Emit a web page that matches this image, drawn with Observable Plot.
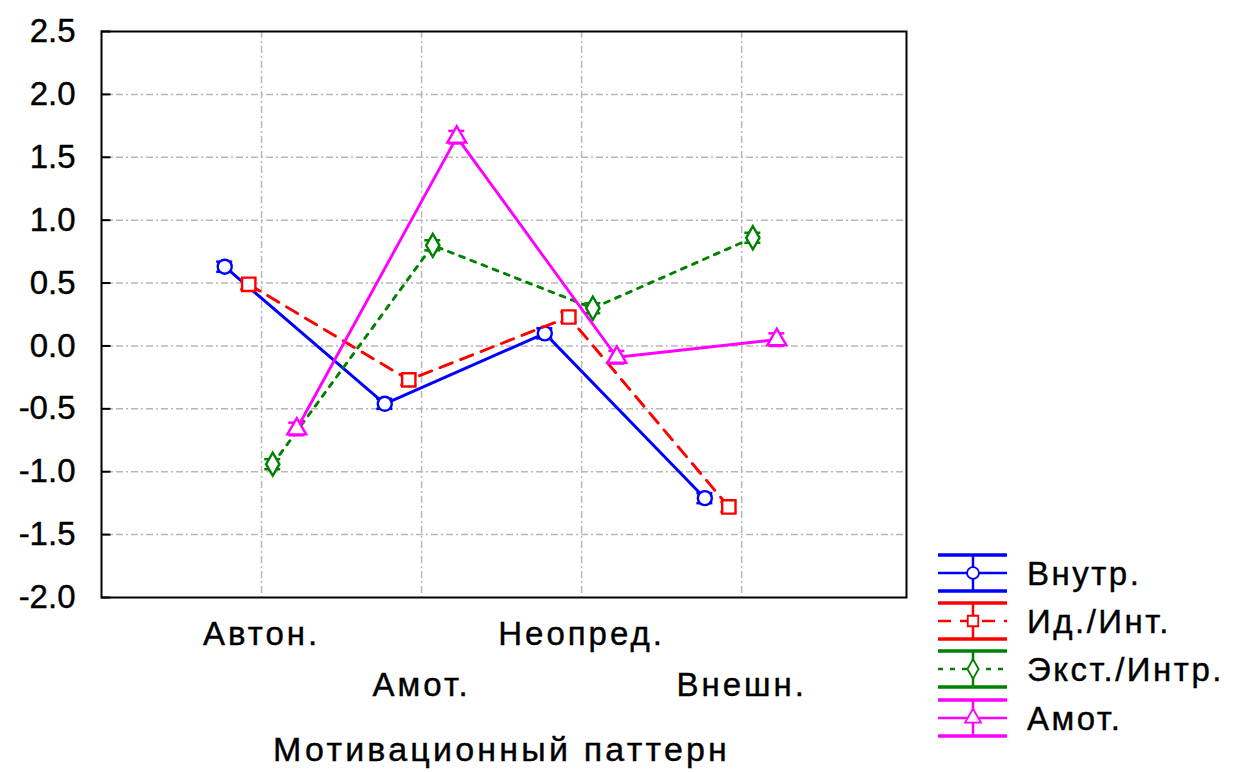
<!DOCTYPE html>
<html>
<head>
<meta charset="utf-8">
<script src="https://cdn.jsdelivr.net/npm/d3@7"></script>
<script src="https://cdn.jsdelivr.net/npm/@observablehq/plot@0.6"></script>
<style>
  html, body { margin: 0; padding: 0; background: #fff; }
  #chart { width: 1234px; height: 772px; }
  svg { font-family: "Liberation Sans", Arial, sans-serif; }
</style>
</head>
<body>
<div id="chart"></div>
<script>
// ---- data ----
const categories = ["Автон.", "Амот.", "Неопред.", "Внешн."];
const seriesNames = ["Внутр.", "Ид./Инт.", "Экст./Интр.", "Амот."];
const vnutr = [0.63, -0.46, 0.10, -1.21];
const idInt = [0.49, -0.27, 0.23, -1.28];
const ekst  = [-0.94, 0.80, 0.30, 0.86];
const amot  = [-0.66, 1.66, -0.09, 0.05];
const errVnutr = [0.04, 0.04, 0.04, 0.04];
const errIdInt = [0.04, 0.04, 0.04, 0.04];
const errEkst  = [0.04, 0.04, 0.04, 0.04];
const errAmot  = [0.05, 0.05, 0.05, 0.05];
const yTicks = [-2.0, -1.5, -1.0, -0.5, 0.0, 0.5, 1.0, 1.5, 2.0, 2.5];
const xTitle = "Мотивационный паттерн";

// ---- style ----
const values = [vnutr, idInt, ekst, amot];
const errs = [errVnutr, errIdInt, errEkst, errAmot];
const colors = ["#0000ff", "#ff0000", "#008000", "#ff00ff"];
const symbols = ["circle", "square", "diamond", "triangle"];
const dashes = [null, "13,9", "5,7", null];
const offsets = [-0.23, -0.08, 0.07, 0.22];
const FONT = 33;

const rows = [];
seriesNames.forEach((s, si) => values[si].forEach((v, ci) => rows.push({
  series: s, si, cat: categories[ci], x: ci + 1 + offsets[si], y: v, err: errs[si][ci]
})));

const marks = [
  Plot.ruleX([1, 2, 3, 4], {stroke: "#b8b8b8", strokeWidth: 1.5, strokeDasharray: "7,3,2,3"}),
  Plot.ruleY(yTicks.slice(1, -1), {stroke: "#b8b8b8", strokeWidth: 1.5, strokeDasharray: "7,3,2,3"}),
  Plot.ruleY(yTicks, {x1: 0, x2: 0.06, stroke: "black", strokeWidth: 2}),
];
seriesNames.forEach((s, si) => {
  const d = rows.filter(r => r.si === si);
  marks.push(
    Plot.line(d, {x: "x", y: "y", stroke: colors[si], strokeWidth: 2.9, strokeDasharray: dashes[si]}),
    Plot.ruleX(d, {x: "x", y1: r => r.y - r.err, y2: r => r.y + r.err, stroke: colors[si], strokeWidth: 2}),
    Plot.ruleY(d, {y: r => r.y + r.err, x1: r => r.x - 0.05, x2: r => r.x + 0.05, stroke: colors[si], strokeWidth: 2.5}),
    Plot.ruleY(d, {y: r => r.y - r.err, x1: r => r.x - 0.05, x2: r => r.x + 0.05, stroke: colors[si], strokeWidth: 2.5}),
    Plot.dot(d, {x: "x", y: "y", symbol: () => symbols[si], r: si === 1 ? 7.5 : 7, fill: "white", stroke: colors[si], strokeWidth: 2.4})
  );
});
const catRows = categories.map((c, i) => ({c, x: i + 1, row: i % 2}));
marks.push(
  Plot.frame({stroke: "black", strokeWidth: 2}),
  Plot.axisY({ticks: yTicks, label: null, tickFormat: d => d.toFixed(1).replace("\u2212", "-"), tickSize: 0, tickPadding: 26, fontSize: FONT, fill: "black"}),
  Plot.text(catRows.filter(d => d.row === 0), {x: "x", text: "c", frameAnchor: "bottom", dy: 37, lineAnchor: "middle", fontSize: FONT, fill: "black", ariaLabel: () => "xlabels"}),
  Plot.text(catRows.filter(d => d.row === 1), {x: "x", text: "c", frameAnchor: "bottom", dy: 88, lineAnchor: "middle", fontSize: FONT, fill: "black", ariaLabel: () => "xlabels"}),
  Plot.text([xTitle], {x: 2.5, text: d => d, frameAnchor: "bottom", dy: 153, lineAnchor: "middle", fontSize: FONT + 1, fill: "black", ariaLabel: () => "xtitle"})
);

const chart = Plot.plot({
  width: 1234,
  height: 772,
  marginLeft: 101,
  marginRight: 328,
  marginTop: 31,
  marginBottom: 175,
  style: {fontFamily: '"Liberation Sans", Arial, sans-serif', background: "white"},
  x: {domain: [0, 5.03], axis: null},
  y: {domain: [-2, 2.5], axis: null},
  marks
});
document.getElementById("chart").appendChild(chart);

const svg = d3.select(chart);
svg.selectAll('[aria-label="xlabels"]').attr("letter-spacing", "3px");
svg.selectAll('[aria-label="xtitle"]').attr("letter-spacing", "3.2px");
svg.selectAll("text").attr("stroke", "black").attr("stroke-width", 0.4);

// ---- legend ----
const lg = svg.append("g").attr("class", "legend");
const legendY = [573, 621, 669, 718];
seriesNames.forEach((s, si) => {
  const cy = legendY[si];
  const g = lg.append("g");
  const c = colors[si];
  g.append("line").attr("x1", 938).attr("x2", 1007).attr("y1", cy - 18).attr("y2", cy - 18).attr("stroke", c).attr("stroke-width", 3.5);
  g.append("line").attr("x1", 938).attr("x2", 1007).attr("y1", cy + 18).attr("y2", cy + 18).attr("stroke", c).attr("stroke-width", 3.5);
  g.append("line").attr("x1", 973).attr("x2", 973).attr("y1", cy - 18).attr("y2", cy + 18).attr("stroke", c).attr("stroke-width", 2.5);
  g.append("line").attr("x1", 938).attr("x2", 1007).attr("y1", cy).attr("y2", cy).attr("stroke", c).attr("stroke-width", 2.5)
    .attr("stroke-dasharray", dashes[si]);
  const sym = d3.symbol().type([d3.symbolCircle, d3.symbolSquare, d3.symbolDiamond, d3.symbolTriangle][si]).size(110);
  g.append("path").attr("d", sym()).attr("transform", `translate(973,${cy})`).attr("fill", "white").attr("stroke", c).attr("stroke-width", 1.8);
  g.append("text").attr("x", 1027).attr("y", cy).attr("dy", "0.35em").attr("text-anchor", "start")
    .attr("letter-spacing", "2.5px").attr("font-size", FONT).attr("fill", "black")
    .attr("stroke", "black").attr("stroke-width", 0.4).text(s);
});
</script>
</body>
</html>
